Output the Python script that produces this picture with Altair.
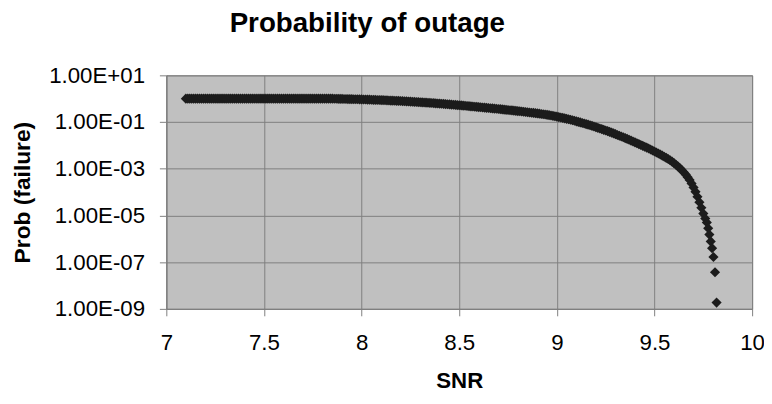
import altair as alt
import pandas as pd

# SNR values (x)
snr = [
    7.10, 7.11, 7.12, 7.13, 7.14, 7.15, 7.16, 7.17, 7.18, 7.19,
    7.20, 7.21, 7.22, 7.23, 7.24, 7.25, 7.26, 7.27, 7.28, 7.29,
    7.30, 7.31, 7.32, 7.33, 7.34, 7.35, 7.36, 7.37, 7.38, 7.39,
    7.40, 7.41, 7.42, 7.43, 7.44, 7.45, 7.46, 7.47, 7.48, 7.49,
    7.50, 7.51, 7.52, 7.53, 7.54, 7.55, 7.56, 7.57, 7.58, 7.59,
    7.60, 7.61, 7.62, 7.63, 7.64, 7.65, 7.66, 7.67, 7.68, 7.69,
    7.70, 7.71, 7.72, 7.73, 7.74, 7.75, 7.76, 7.77, 7.78, 7.79,
    7.80, 7.81, 7.82, 7.83, 7.84, 7.85,
    7.86, 7.87, 7.88, 7.89, 7.90, 7.91, 7.92, 7.93, 7.94, 7.95,
    7.96, 7.97, 7.98, 7.99, 8.00, 8.01, 8.02, 8.03, 8.04, 8.05,
    8.06, 8.07, 8.08, 8.09, 8.10, 8.11, 8.12, 8.13, 8.14, 8.15,
    8.16, 8.17, 8.18, 8.19, 8.20, 8.21, 8.22, 8.23, 8.24, 8.25,
    8.26, 8.27, 8.28, 8.29, 8.30, 8.31, 8.32, 8.33, 8.34, 8.35,
    8.36, 8.37, 8.38, 8.39, 8.40, 8.41, 8.42, 8.43, 8.44, 8.45,
    8.46, 8.47, 8.48, 8.49, 8.50, 8.51, 8.52, 8.53, 8.54, 8.55,
    8.56, 8.57, 8.58, 8.59, 8.60, 8.61, 8.62, 8.63, 8.64, 8.65,
    8.66, 8.67, 8.68, 8.69, 8.70, 8.71, 8.72, 8.73, 8.74, 8.75,
    8.76, 8.77, 8.78, 8.79, 8.80, 8.81, 8.82, 8.83, 8.84, 8.85,
    8.86, 8.87, 8.88, 8.89, 8.90, 8.91, 8.92, 8.93, 8.94, 8.95,
    8.96, 8.97, 8.98, 8.99, 9.00, 9.01, 9.02, 9.03, 9.04, 9.05,
    9.06, 9.07, 9.08, 9.09, 9.10, 9.11, 9.12, 9.13, 9.14, 9.15,
    9.16, 9.17, 9.18, 9.19, 9.20, 9.21, 9.22, 9.23, 9.24, 9.25,
    9.26, 9.27, 9.28, 9.29, 9.30, 9.31, 9.32, 9.33, 9.34, 9.35,
    9.36, 9.37, 9.38, 9.39, 9.40, 9.41, 9.42, 9.43, 9.44, 9.45,
    9.46, 9.47, 9.48, 9.49, 9.50, 9.51, 9.52, 9.53, 9.54, 9.55,
    9.56, 9.57, 9.58, 9.59, 9.60, 9.61, 9.62, 9.63, 9.64, 9.65,
    9.66, 9.67, 9.68, 9.69, 9.70, 9.71, 9.72, 9.73, 9.74, 9.75,
    9.76, 9.768, 9.775, 9.781, 9.788, 9.795, 9.802, 9.810, 9.818,
]

log10_prob = [
    0.0, 0.0, 0.0, 0.0, 0.0, 0.0, 0.0, 0.0, 0.0, 0.0,
    0.0, 0.0, 0.0, 0.0, 0.0, 0.0, 0.0, 0.0, 0.0, 0.0,
    0.0, 0.0, 0.0, 0.0, 0.0, 0.0, 0.0, 0.0, 0.0, 0.0,
    0.0, 0.0, 0.0, 0.0, 0.0, 0.0, 0.0, 0.0, 0.0, 0.0,
    0.0, 0.0, 0.0, 0.0, 0.0, 0.0, 0.0, 0.0, 0.0, 0.0,
    0.0, 0.0, 0.0, 0.0, 0.0, 0.0, 0.0, 0.0, 0.0, 0.0,
    0.0, 0.0, 0.0, 0.0, 0.0, 0.0, 0.0, 0.0, 0.0, 0.0,
    0.0, 0.0, 0.0, 0.0, 0.0, 0.0,
    -0.002, -0.004, -0.006, -0.008, -0.010, -0.012, -0.014, -0.016, -0.018, -0.020,
    -0.022, -0.024, -0.026, -0.028, -0.030, -0.033, -0.036, -0.039, -0.042, -0.045,
    -0.048, -0.051, -0.054, -0.057, -0.060, -0.064, -0.068, -0.072, -0.076, -0.080,
    -0.084, -0.088, -0.092, -0.096, -0.100, -0.105, -0.110, -0.115, -0.120, -0.125,
    -0.130, -0.135, -0.140, -0.145, -0.150, -0.156, -0.162, -0.168, -0.174, -0.180,
    -0.186, -0.192, -0.198, -0.204, -0.210, -0.217, -0.224, -0.231, -0.238, -0.245,
    -0.252, -0.259, -0.266, -0.273, -0.280, -0.288, -0.296, -0.304, -0.312, -0.320,
    -0.328, -0.336, -0.344, -0.352, -0.360, -0.368, -0.376, -0.384, -0.392, -0.400,
    -0.408, -0.416, -0.424, -0.432, -0.440, -0.449, -0.458, -0.467, -0.476, -0.485,
    -0.494, -0.503, -0.512, -0.521, -0.530, -0.540, -0.550, -0.560, -0.570, -0.580,
    -0.590, -0.600, -0.610, -0.620, -0.630, -0.642, -0.654, -0.666, -0.679, -0.692,
    -0.706, -0.720, -0.734, -0.752, -0.770, -0.788, -0.806, -0.824, -0.842, -0.862,
    -0.882, -0.902, -0.924, -0.946, -0.970, -0.993, -1.016, -1.039, -1.063, -1.087,
    -1.111, -1.136, -1.162, -1.190, -1.220, -1.248, -1.276, -1.304, -1.333, -1.362,
    -1.391, -1.421, -1.452, -1.485, -1.520, -1.553, -1.586, -1.619, -1.653, -1.687,
    -1.722, -1.757, -1.793, -1.831, -1.870, -1.907, -1.944, -1.981, -2.019, -2.057,
    -2.095, -2.135, -2.175, -2.217, -2.260, -2.303, -2.347, -2.392, -2.438, -2.485,
    -2.533, -2.583, -2.638, -2.697, -2.760, -2.830, -2.900, -2.975, -3.060, -3.150,
    -3.250, -3.360, -3.480, -3.630, -3.800, -3.990, -4.200, -4.430, -4.670, -4.920,
    -5.130, -5.300, -5.550, -5.820, -6.110, -6.400, -6.780, -7.430, -8.730,
]

x_ticks = [7, 7.5, 8, 8.5, 9, 9.5, 10]
y_ticks = [10, 1e-1, 1e-3, 1e-5, 1e-7, 1e-9]

df = pd.DataFrame({"SNR": snr, "Prob": [10 ** v for v in log10_prob]})

FONT = "Liberation Sans"
GRID = "#808080"

label_expr_y = (
    "'1.00E' + (round(log(datum.value)/LN10) < 0 ? '-' : '+') + "
    "(abs(round(log(datum.value)/LN10)) < 10 ? '0' : '') + "
    "abs(round(log(datum.value)/LN10))"
)

chart = (
    alt.Chart(df)
    .mark_point(shape="diamond", filled=True, size=105, color="#1c1c1c", opacity=1)
    .encode(
        x=alt.X(
            "SNR:Q",
            scale=alt.Scale(domain=[7, 10], nice=False, zero=False),
            axis=alt.Axis(
                title="SNR",
                values=x_ticks,
                labelExpr="datum.value + ''",
                grid=True,
                gridColor=GRID,
                tickColor=GRID,
                domainColor=GRID,
                tickSize=7,
                labelPadding=16,
                labelFontSize=22.5,
                labelColor="#000000",
                labelFlush=False,
                titleFontSize=22.5,
                titleFontWeight="bold",
                titleColor="#000000",
                titleY=72,
                titleBaseline="middle",
            ),
        ),
        y=alt.Y(
            "Prob:Q",
            scale=alt.Scale(type="log", domain=[1e-9, 10], nice=False),
            axis=alt.Axis(
                title="Prob (failure)",
                values=y_ticks,
                labelExpr=label_expr_y,
                grid=True,
                gridColor=GRID,
                tickColor=GRID,
                domainColor=GRID,
                tickSize=7,
                labelPadding=15,
                labelFontSize=22.5,
                labelColor="#000000",
                labelFlush=False,
                titleFontSize=23,
                titleFontWeight="bold",
                titleColor="#000000",
                titleX=-145,
                titleY=118,
                titleBaseline="middle",
                titleAlign="center",
            ),
        ),
    )
    .properties(
        width=592,
        height=236,
        title=alt.TitleParams(
            "Probability of outage",
            fontSize=28,
            fontWeight="bold",
            font=FONT,
            color="#000000",
            anchor="start",
            frame="group",
            dx=64,
            offset=27,
        ),
        autosize=alt.AutoSizeParams(type="none"),
        padding={"left": 160, "top": 66, "right": 12, "bottom": 86},
    )
    .configure(font=FONT)
    .configure_view(fill="#c0c0c0", stroke=GRID, strokeWidth=1)
    .configure_axis(labelFont=FONT, titleFont=FONT, gridWidth=1, domainWidth=1, tickWidth=1)
)

chart.save("out.html", embed_options={"renderer": "svg", "actions": False})
